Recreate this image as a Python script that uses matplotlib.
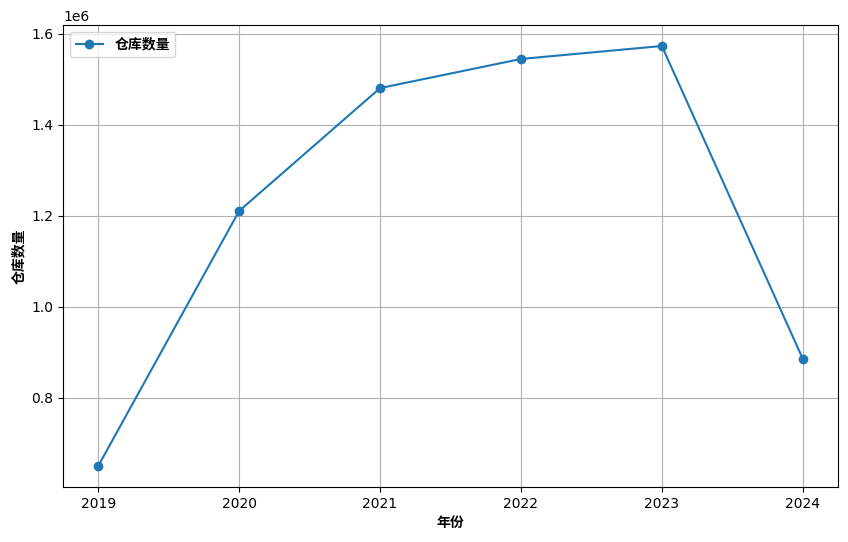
import matplotlib
matplotlib.use("Agg")
import matplotlib.pyplot as plt

plt.rcParams['font.family'] = ['DejaVu Sans']

years = [2019, 2020, 2021, 2022, 2023, 2024]
warehouses = [650500, 1211000, 1481000, 1545000, 1573500, 886000]

cjk = ['Noto Sans CJK SC', 'DejaVu Sans']

fig = plt.figure(figsize=(8.48, 5.42), dpi=100)
ax = fig.add_axes([63/848, 1-487/542, (838-63)/848, (487-25)/542])
ax.plot(years, warehouses, marker='o', color='#1f77b4', label='仓库数量')
ax.set_xlabel('年份', family=cjk, fontweight='bold')
ax.set_ylabel('仓库数量', family=cjk, fontweight='bold')
ax.grid(True)
ax.legend(prop={'family': cjk, 'weight': 'bold'}, loc='upper left')
fig.savefig('out.png', dpi=100)
